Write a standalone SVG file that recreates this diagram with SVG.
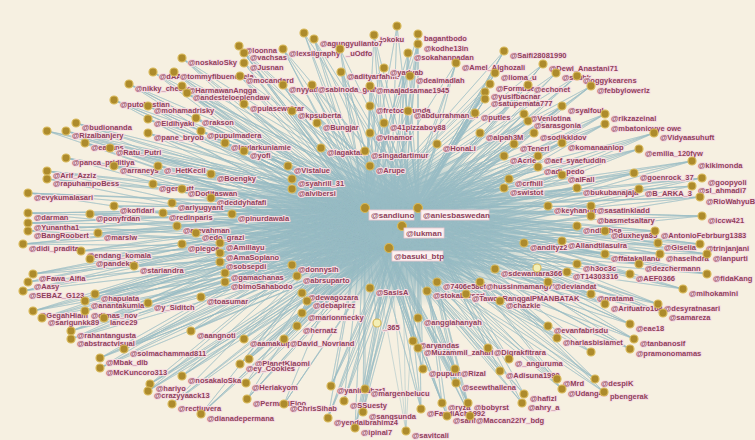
<svg xmlns="http://www.w3.org/2000/svg" width="755" height="440" viewBox="0 0 755 440">
<style>
.bg{fill:#f6f0e1}
.e{fill:none;stroke:#98bbc3;stroke-width:.8;stroke-opacity:.6;stroke-linejoin:round}
#nodes circle{fill:#ad8b2c;stroke:#d8b95a;stroke-width:1.2}
#nodes text{font-family:"Liberation Sans",Arial,sans-serif;font-size:7.5px;font-weight:bold;fill:#8f3f5a;stroke:#f6dde2;stroke-width:2.2px;paint-order:stroke;stroke-linejoin:round}
#nodes .lt circle{fill:#f3efb6}
#nodes .hub rect{fill:#fbf1f1;stroke:#efc8cf;stroke-width:.8}
#nodes .hub text{font-size:8px;stroke:none}
</style>
<defs>
<radialGradient id="core" cx="0.5" cy="0.5" r="0.5">
<stop offset="0" stop-color="#9cbdc5" stop-opacity="1"/>
<stop offset="0.6" stop-color="#9fbfc6" stop-opacity="0.85"/>
<stop offset="1" stop-color="#a8c6cc" stop-opacity="0"/>
</radialGradient>
</defs>
<rect class="bg" x="0" y="0" width="755" height="440"/>
<g id="connectors">
<ellipse cx="392" cy="228" rx="165" ry="80" fill="url(#core)"/>
<path class="e" d="M365 208L374 35 365 208 418 34 365 208 397 26 365 208 314 39 365 208 304 33 365 208 418 44 365 208 239 46 365 208 244 53 365 208 283 49 365 208 340 49 365 208 408 53 365 208 504 51 365 208 182 58 365 208 244 63 365 208 456 63 365 208 543 64 365 208 153 72 365 208 174 72 365 208 240 76 365 208 341 72 365 208 379 73 365 208 403 73 365 208 495 73 365 208 556 73 365 208 577 76 365 208 129 84 365 208 182 86 365 208 283 85 365 208 312 85 365 208 370 86 365 208 490 84 365 208 528 85 365 208 591 86 365 208 187 93 365 208 485 92 365 208 114 100 365 208 244 104 365 208 370 106 365 208 485 99 365 208 562 106 365 208 148 106 365 208 292 111 365 208 408 111 365 208 475 113 365 208 524 114 365 208 605 114 365 208 76 123 365 208 148 119 365 208 196 118 365 208 528 121 365 208 605 124 365 208 317 123 365 208 384 123 365 208 47 131 365 208 66 131 365 208 148 133 365 208 201 131 365 208 370 133 365 208 480 133 365 208 534 133 365 208 654 133 365 208 85 143 365 208 110 148 365 208 225 143 365 208 437 144 365 208 514 144 365 208 562 143 365 208 639 149 365 208 66 158 365 208 244 151 365 208 321 148 365 208 365 151 365 208 504 156 365 208 538 156 365 208 692 161 365 208 114 166 365 208 158 166 365 208 47 171 365 208 288 166 365 208 370 166 365 208 538 167 365 208 211 174 365 208 292 179 365 208 562 175 365 208 634 173 365 208 702 178 365 208 47 179 365 208 153 184 365 208 182 189 365 208 292 189 365 208 509 179 365 208 504 188 365 208 577 188 365 208 639 189 365 208 692 186 365 208 700 197 365 208 28 193 365 208 211 198 365 208 172 203 365 208 114 206 365 208 28 213 365 208 90 214 365 208 163 213 365 208 232 214 365 208 548 206 365 208 591 206 365 208 591 216 365 208 702 216 365 208 28 223 365 208 177 226 365 208 577 226 365 208 28 231 365 208 98 233 365 208 196 233 365 208 605 231 365 208 655 231 365 208 23 244 365 208 182 244 365 208 220 243 365 208 524 243 365 208 562 241 365 208 658 243 365 208 700 244 365 208 81 251 365 208 220 253 365 208 90 259 365 208 220 262 365 208 605 254 365 208 660 254 365 208 707 254 365 208 134 266 365 208 292 265 365 208 495 269 365 208 537 268 365 208 577 264 365 208 567 272 365 208 639 264 365 208 630 274 365 208 707 274 365 208 33 274 365 208 225 273 365 208 297 276 365 208 28 282 365 208 225 282 365 208 437 282 365 208 480 282 365 208 548 282 365 208 23 291 365 208 95 294 365 208 201 297 365 208 302 293 365 208 370 288 365 208 427 291 365 208 466 294 365 208 591 294 365 208 683 289 365 208 85 301 365 208 148 303 365 208 307 301 365 208 500 301 365 208 605 304 365 208 658 304 365 208 33 311 365 208 85 311 365 208 302 313 365 208 663 313 365 208 42 318 365 208 104 318 365 208 418 318 365 208 71 331 365 208 191 331 365 208 297 326 365 208 377 323 365 208 548 326 365 208 630 324 365 208 71 339 365 208 244 339 365 208 284 339 365 208 413 341 365 208 634 339 365 208 557 338 365 208 124 349 365 208 100 358 365 208 249 359 365 208 418 348 365 208 488 348 365 208 630 349 365 208 591 352 365 208 509 359 365 208 100 368 365 208 240 364 365 208 423 369 365 208 455 369 365 208 500 371 365 208 182 376 365 208 557 379 365 208 595 379 365 208 150 384 365 208 246 383 365 208 331 386 365 208 365 389 365 208 456 383 365 208 562 389 365 208 604 392 365 208 148 391 365 208 524 394 365 208 247 399 365 208 172 404 365 208 284 404 365 208 344 401 365 208 442 403 365 208 468 403 365 208 522 403 365 208 363 412 365 208 421 409 365 208 201 414 365 208 328 418 365 208 447 416 365 208 470 416 365 208 355 428 365 208 406 431"/>
<path class="e" d="M418 208L374 35 418 208 418 34 418 208 397 26 418 208 314 39 418 208 304 33 418 208 418 44 418 208 239 46 418 208 244 53 418 208 283 49 418 208 340 49 418 208 408 53 418 208 504 51 418 208 182 58 418 208 244 63 418 208 456 63 418 208 543 64 418 208 153 72 418 208 174 72 418 208 240 76 418 208 341 72 418 208 379 73 418 208 403 73 418 208 495 73 418 208 556 73 418 208 577 76 418 208 129 84 418 208 182 86 418 208 283 85 418 208 312 85 418 208 370 86 418 208 490 84 418 208 528 85 418 208 591 86 418 208 187 93 418 208 485 92 418 208 114 100 418 208 244 104 418 208 370 106 418 208 485 99 418 208 562 106 418 208 148 106 418 208 292 111 418 208 408 111 418 208 475 113 418 208 524 114 418 208 605 114 418 208 76 123 418 208 148 119 418 208 196 118 418 208 528 121 418 208 605 124 418 208 317 123 418 208 384 123 418 208 47 131 418 208 66 131 418 208 148 133 418 208 201 131 418 208 370 133 418 208 480 133 418 208 534 133 418 208 654 133 418 208 85 143 418 208 110 148 418 208 225 143 418 208 437 144 418 208 514 144 418 208 562 143 418 208 639 149 418 208 66 158 418 208 244 151 418 208 321 148 418 208 365 151 418 208 504 156 418 208 538 156 418 208 692 161 418 208 114 166 418 208 158 166 418 208 47 171 418 208 288 166 418 208 370 166 418 208 538 167 418 208 211 174 418 208 292 179 418 208 562 175 418 208 634 173 418 208 702 178 418 208 47 179 418 208 153 184 418 208 182 189 418 208 292 189 418 208 509 179 418 208 504 188 418 208 577 188 418 208 639 189 418 208 692 186 418 208 700 197 418 208 28 193 418 208 211 198 418 208 172 203 418 208 114 206 418 208 28 213 418 208 90 214 418 208 163 213 418 208 232 214 418 208 548 206 418 208 591 206 418 208 591 216 418 208 702 216 418 208 28 223 418 208 177 226 418 208 577 226 418 208 28 231 418 208 98 233 418 208 196 233 418 208 605 231 418 208 655 231 418 208 23 244 418 208 182 244 418 208 220 243 418 208 524 243 418 208 562 241 418 208 658 243 418 208 700 244 418 208 81 251 418 208 220 253 418 208 90 259 418 208 220 262 418 208 605 254 418 208 660 254 418 208 707 254 418 208 134 266 418 208 292 265 418 208 495 269 418 208 537 268 418 208 577 264 418 208 567 272 418 208 639 264 418 208 630 274 418 208 707 274 418 208 33 274 418 208 225 273 418 208 297 276 418 208 28 282 418 208 225 282 418 208 437 282 418 208 480 282 418 208 548 282 418 208 23 291 418 208 95 294 418 208 201 297 418 208 302 293 418 208 370 288 418 208 427 291 418 208 466 294 418 208 591 294 418 208 683 289 418 208 85 301 418 208 148 303 418 208 307 301 418 208 500 301 418 208 605 304 418 208 658 304 418 208 33 311 418 208 85 311 418 208 302 313 418 208 663 313 418 208 42 318 418 208 104 318 418 208 418 318 418 208 71 331 418 208 191 331 418 208 297 326 418 208 377 323 418 208 548 326 418 208 630 324 418 208 71 339 418 208 244 339 418 208 284 339 418 208 413 341 418 208 634 339 418 208 557 338 418 208 124 349 418 208 100 358 418 208 249 359 418 208 418 348 418 208 488 348 418 208 630 349 418 208 591 352 418 208 509 359 418 208 100 368 418 208 240 364 418 208 423 369 418 208 455 369 418 208 500 371 418 208 182 376 418 208 557 379 418 208 595 379 418 208 150 384 418 208 246 383 418 208 331 386 418 208 365 389 418 208 456 383 418 208 562 389 418 208 604 392 418 208 148 391 418 208 524 394 418 208 247 399 418 208 172 404 418 208 284 404 418 208 344 401 418 208 442 403 418 208 468 403 418 208 522 403 418 208 363 412 418 208 421 409 418 208 201 414 418 208 328 418 418 208 447 416 418 208 470 416 418 208 355 428 418 208 406 431"/>
<path class="e" d="M402 226L374 35 402 226 418 34 402 226 314 39 402 226 418 44 402 226 239 46 402 226 283 49 402 226 408 53 402 226 504 51 402 226 182 58 402 226 456 63 402 226 543 64 402 226 174 72 402 226 240 76 402 226 341 72 402 226 403 73 402 226 495 73 402 226 577 76 402 226 129 84 402 226 182 86 402 226 312 85 402 226 370 86 402 226 490 84 402 226 591 86 402 226 187 93 402 226 114 100 402 226 244 104 402 226 485 99 402 226 562 106 402 226 148 106 402 226 292 111 402 226 408 111 402 226 524 114 402 226 605 114 402 226 76 123 402 226 196 118 402 226 605 124 402 226 317 123 402 226 384 123 402 226 66 131 402 226 148 133 402 226 201 131 402 226 480 133 402 226 654 133 402 226 85 143 402 226 110 148 402 226 225 143 402 226 437 144 402 226 562 143 402 226 639 149 402 226 66 158 402 226 321 148 402 226 504 156 402 226 692 161 402 226 114 166 402 226 47 171 402 226 288 166 402 226 538 167 402 226 211 174 402 226 634 173 402 226 702 178 402 226 153 184 402 226 292 189 402 226 577 188 402 226 639 189 402 226 700 197 402 226 28 193 402 226 172 203 402 226 28 213 402 226 90 214 402 226 232 214 402 226 591 206 402 226 702 216 402 226 28 223 402 226 177 226 402 226 28 231 402 226 98 233 402 226 605 231 402 226 655 231 402 226 23 244 402 226 220 243 402 226 562 241 402 226 700 244 402 226 81 251 402 226 90 259 402 226 605 254 402 226 707 254 402 226 134 266 402 226 292 265 402 226 495 269 402 226 639 264 402 226 707 274 402 226 33 274 402 226 225 282 402 226 480 282 402 226 23 291 402 226 95 294 402 226 201 297 402 226 302 293 402 226 466 294 402 226 591 294 402 226 683 289 402 226 85 301 402 226 148 303 402 226 605 304 402 226 658 304 402 226 33 311 402 226 302 313 402 226 663 313 402 226 42 318 402 226 418 318 402 226 71 331 402 226 191 331 402 226 548 326 402 226 630 324 402 226 71 339 402 226 284 339 402 226 634 339 402 226 124 349 402 226 100 358 402 226 249 359 402 226 488 348 402 226 630 349 402 226 509 359 402 226 100 368 402 226 240 364 402 226 455 369 402 226 182 376 402 226 595 379 402 226 150 384 402 226 331 386 402 226 456 383 402 226 562 389 402 226 148 391 402 226 247 399 402 226 172 404 402 226 344 401 402 226 468 403 402 226 363 412 402 226 421 409 402 226 201 414 402 226 328 418 402 226 470 416 402 226 355 428 402 226 406 431"/>
<path class="e" d="M389 248L374 35 389 248 418 34 389 248 397 26 389 248 314 39 389 248 304 33 389 248 418 44 389 248 239 46 389 248 244 53 389 248 283 49 389 248 340 49 389 248 408 53 389 248 504 51 389 248 182 58 389 248 244 63 389 248 456 63 389 248 543 64 389 248 153 72 389 248 174 72 389 248 240 76 389 248 341 72 389 248 379 73 389 248 403 73 389 248 495 73 389 248 556 73 389 248 577 76 389 248 129 84 389 248 182 86 389 248 283 85 389 248 312 85 389 248 370 86 389 248 490 84 389 248 528 85 389 248 591 86 389 248 187 93 389 248 485 92 389 248 114 100 389 248 244 104 389 248 370 106 389 248 485 99 389 248 562 106 389 248 148 106 389 248 292 111 389 248 408 111 389 248 475 113 389 248 524 114 389 248 605 114 389 248 76 123 389 248 148 119 389 248 196 118 389 248 528 121 389 248 605 124 389 248 317 123 389 248 384 123 389 248 47 131 389 248 66 131 389 248 148 133 389 248 201 131 389 248 370 133 389 248 480 133 389 248 534 133 389 248 654 133 389 248 85 143 389 248 110 148 389 248 225 143 389 248 437 144 389 248 514 144 389 248 562 143 389 248 639 149 389 248 66 158 389 248 244 151 389 248 321 148 389 248 365 151 389 248 504 156 389 248 538 156 389 248 692 161 389 248 114 166 389 248 158 166 389 248 47 171 389 248 288 166 389 248 370 166 389 248 538 167 389 248 211 174 389 248 292 179 389 248 562 175 389 248 634 173 389 248 702 178 389 248 47 179 389 248 153 184 389 248 182 189 389 248 292 189 389 248 509 179 389 248 504 188 389 248 577 188 389 248 639 189 389 248 692 186 389 248 700 197 389 248 28 193 389 248 211 198 389 248 172 203 389 248 114 206 389 248 28 213 389 248 90 214 389 248 163 213 389 248 232 214 389 248 548 206 389 248 591 206 389 248 591 216 389 248 702 216 389 248 28 223 389 248 177 226 389 248 577 226 389 248 28 231 389 248 98 233 389 248 196 233 389 248 605 231 389 248 655 231 389 248 23 244 389 248 182 244 389 248 220 243 389 248 524 243 389 248 562 241 389 248 658 243 389 248 700 244 389 248 81 251 389 248 220 253 389 248 90 259 389 248 220 262 389 248 605 254 389 248 660 254 389 248 707 254 389 248 134 266 389 248 292 265 389 248 495 269 389 248 537 268 389 248 577 264 389 248 567 272 389 248 639 264 389 248 630 274 389 248 707 274 389 248 33 274 389 248 225 273 389 248 297 276 389 248 28 282 389 248 225 282 389 248 437 282 389 248 480 282 389 248 548 282 389 248 23 291 389 248 95 294 389 248 201 297 389 248 302 293 389 248 370 288 389 248 427 291 389 248 466 294 389 248 591 294 389 248 683 289 389 248 85 301 389 248 148 303 389 248 307 301 389 248 500 301 389 248 605 304 389 248 658 304 389 248 33 311 389 248 85 311 389 248 302 313 389 248 663 313 389 248 42 318 389 248 104 318 389 248 418 318 389 248 71 331 389 248 191 331 389 248 297 326 389 248 377 323 389 248 548 326 389 248 630 324 389 248 71 339 389 248 244 339 389 248 284 339 389 248 413 341 389 248 634 339 389 248 557 338 389 248 124 349 389 248 100 358 389 248 249 359 389 248 418 348 389 248 488 348 389 248 630 349 389 248 591 352 389 248 509 359 389 248 100 368 389 248 240 364 389 248 423 369 389 248 455 369 389 248 500 371 389 248 182 376 389 248 557 379 389 248 595 379 389 248 150 384 389 248 246 383 389 248 331 386 389 248 365 389 389 248 456 383 389 248 562 389 389 248 604 392 389 248 148 391 389 248 524 394 389 248 247 399 389 248 172 404 389 248 284 404 389 248 344 401 389 248 442 403 389 248 468 403 389 248 522 403 389 248 363 412 389 248 421 409 389 248 201 414 389 248 328 418 389 248 447 416 389 248 470 416 389 248 355 428 389 248 406 431"/>
</g>
<g id="nodes">
<g id="n1"><circle cx="374" cy="35" r="4"/><text x="380" y="42">jokoku</text></g>
<g id="n2"><circle cx="418" cy="34" r="4"/><text x="424" y="41">bagantbodo</text></g>
<g id="n3"><circle cx="397" cy="26" r="4"/></g>
<g id="n4"><circle cx="314" cy="39" r="4"/><text x="320" y="46">@agungyulianto7</text></g>
<g id="n5"><circle cx="304" cy="33" r="4"/></g>
<g id="n6"><circle cx="418" cy="44" r="4"/><text x="424" y="51">@kodhe13in</text></g>
<g id="n7"><circle cx="239" cy="46" r="4"/><text x="245" y="53">@loonna</text></g>
<g id="n8"><circle cx="244" cy="53" r="4"/><text x="250" y="60">@vachsas</text></g>
<g id="n9"><circle cx="283" cy="49" r="4"/><text x="289" y="56">@lexsilgraphy</text></g>
<g id="n10"><circle cx="340" cy="49" r="4"/><text x="346" y="56">_uOdfo</text></g>
<g id="n11"><circle cx="408" cy="53" r="4"/><text x="414" y="60">@sokahanpadan</text></g>
<g id="n12"><circle cx="504" cy="51" r="4"/><text x="510" y="58">@Saifi28081990</text></g>
<g id="n13"><circle cx="182" cy="58" r="4"/><text x="188" y="65">@noskaloSky</text></g>
<g id="n14"><circle cx="244" cy="63" r="4"/><text x="250" y="70">@Jusnan</text></g>
<g id="n15"><circle cx="456" cy="63" r="4"/><text x="462" y="70">@Amel_Alghozali</text></g>
<g id="n16"><circle cx="543" cy="64" r="4"/><text x="549" y="71">@Dewi_Anastani71</text></g>
<g id="n17"><circle cx="153" cy="72" r="4"/><text x="159" y="79">@dAA</text></g>
<g id="n18"><circle cx="174" cy="72" r="4"/><text x="180" y="79">@tommyfibuenosela</text></g>
<g id="n19"><circle cx="240" cy="76" r="4"/><text x="246" y="83">@mocandard</text></g>
<g id="n20"><circle cx="341" cy="72" r="4"/><text x="347" y="79">@adityarfahmi</text></g>
<g id="n21"><circle cx="384" cy="68" r="4"/><text x="390" y="75">@yadyab</text></g>
<g id="n22"><circle cx="410" cy="76" r="4"/><text x="416" y="83">@deaimadlah</text></g>
<g id="n23"><circle cx="495" cy="73" r="4"/><text x="501" y="80">@lioma_u</text></g>
<g id="n24"><circle cx="556" cy="73" r="4"/><text x="562" y="80">@siluhk</text></g>
<g id="n25"><circle cx="577" cy="76" r="4"/><text x="583" y="83">@oggykearens</text></g>
<g id="n26"><circle cx="129" cy="84" r="4"/><text x="135" y="91">@nikky_cheese</text></g>
<g id="n27"><circle cx="182" cy="86" r="4"/><text x="188" y="93">@HarmawanAngga</text></g>
<g id="n28"><circle cx="283" cy="85" r="4"/><text x="289" y="92">@nyyatla</text></g>
<g id="n29"><circle cx="312" cy="85" r="4"/><text x="318" y="92">@sabinoda_graha</text></g>
<g id="n30"><circle cx="370" cy="86" r="4"/><text x="376" y="93">@maajadsamae1945</text></g>
<g id="n31"><circle cx="490" cy="84" r="4"/><text x="496" y="91">@Formusen</text></g>
<g id="n32"><circle cx="528" cy="85" r="4"/><text x="534" y="92">@echonet</text></g>
<g id="n33"><circle cx="591" cy="86" r="4"/><text x="597" y="93">@febbylowerlz</text></g>
<g id="n34"><circle cx="187" cy="93" r="4"/><text x="193" y="100">@andesteloeplendaw</text></g>
<g id="n35"><circle cx="485" cy="92" r="4"/><text x="491" y="99">@yusifbacnar</text></g>
<g id="n36"><circle cx="114" cy="100" r="4"/><text x="120" y="107">@putobastian</text></g>
<g id="n37"><circle cx="244" cy="104" r="4"/><text x="250" y="111">@pulasewaizar</text></g>
<g id="n38"><circle cx="370" cy="106" r="4"/><text x="376" y="113">@fretoceyunda</text></g>
<g id="n39"><circle cx="485" cy="99" r="4"/><text x="491" y="106">@satupemata777</text></g>
<g id="n40"><circle cx="562" cy="106" r="4"/><text x="568" y="113">@syalfoul</text></g>
<g id="n41"><circle cx="148" cy="106" r="4"/><text x="154" y="113">@mohamadrisky</text></g>
<g id="n42"><circle cx="292" cy="111" r="4"/><text x="298" y="118">@kpsuberta</text></g>
<g id="n43"><circle cx="408" cy="111" r="4"/><text x="414" y="118">@abdurrahman_fi</text></g>
<g id="n44"><circle cx="475" cy="113" r="4"/><text x="481" y="120">@putles</text></g>
<g id="n45"><circle cx="524" cy="114" r="4"/><text x="530" y="121">@Venlotina</text></g>
<g id="n46"><circle cx="605" cy="114" r="4"/><text x="611" y="121">@rikzazeinal</text></g>
<g id="n47"><circle cx="76" cy="123" r="4"/><text x="82" y="130">@budionanda</text></g>
<g id="n48"><circle cx="148" cy="119" r="4"/><text x="154" y="126">@Eldihyaki</text></g>
<g id="n49"><circle cx="196" cy="118" r="4"/><text x="202" y="125">@rakson</text></g>
<g id="n50"><circle cx="528" cy="121" r="4"/><text x="534" y="128">@sarasgonia</text></g>
<g id="n51"><circle cx="605" cy="124" r="4"/><text x="611" y="131">@mbatoniovye owe</text></g>
<g id="n52"><circle cx="317" cy="123" r="4"/><text x="323" y="130">@Bungjar</text></g>
<g id="n53"><circle cx="384" cy="123" r="4"/><text x="390" y="130">@41pizzaboy88</text></g>
<g id="n54"><circle cx="47" cy="131" r="4"/></g>
<g id="n55"><circle cx="66" cy="131" r="4"/><text x="72" y="138">@Rizalbanjery</text></g>
<g id="n56"><circle cx="148" cy="133" r="4"/><text x="154" y="140">@pane_bryob</text></g>
<g id="n57"><circle cx="201" cy="131" r="4"/><text x="207" y="138">@pupulmadera</text></g>
<g id="n58"><circle cx="370" cy="133" r="4"/><text x="376" y="140">@vinamor</text></g>
<g id="n59"><circle cx="480" cy="133" r="4"/><text x="486" y="140">@alpah3M</text></g>
<g id="n60"><circle cx="534" cy="133" r="4"/><text x="540" y="140">@sodikkldov</text></g>
<g id="n61"><circle cx="654" cy="133" r="4"/><text x="660" y="140">@Vidyaasuhuft</text></g>
<g id="n62"><circle cx="85" cy="143" r="4"/><text x="91" y="150">@eaeans</text></g>
<g id="n63"><circle cx="110" cy="148" r="4"/><text x="116" y="155">@Ratu_Putri</text></g>
<g id="n64"><circle cx="225" cy="143" r="4"/><text x="231" y="150">@lovlarkuniamie</text></g>
<g id="n65"><circle cx="437" cy="144" r="4"/><text x="443" y="151">@HonaLi</text></g>
<g id="n66"><circle cx="514" cy="144" r="4"/><text x="520" y="151">@Tenerl</text></g>
<g id="n67"><circle cx="562" cy="143" r="4"/><text x="568" y="150">@komanaanlop</text></g>
<g id="n68"><circle cx="639" cy="149" r="4"/><text x="645" y="156">@emilia_120fyw</text></g>
<g id="n69"><circle cx="66" cy="158" r="4"/><text x="72" y="165">@panca_priditiya</text></g>
<g id="n70"><circle cx="244" cy="151" r="4"/><text x="250" y="158">@yofi</text></g>
<g id="n71"><circle cx="321" cy="148" r="4"/><text x="327" y="155">@lagaktakt</text></g>
<g id="n72"><circle cx="365" cy="151" r="4"/><text x="371" y="158">@singadartimur</text></g>
<g id="n73"><circle cx="504" cy="156" r="4"/><text x="510" y="163">@Acrie</text></g>
<g id="n74"><circle cx="538" cy="156" r="4"/><text x="544" y="163">@aef_syaefuddin</text></g>
<g id="n75"><circle cx="692" cy="161" r="4"/><text x="698" y="168">@kikimonda</text></g>
<g id="n76"><circle cx="114" cy="166" r="4"/><text x="120" y="173">@arraneys</text></g>
<g id="n77"><circle cx="158" cy="166" r="4"/><text x="164" y="173">@_HetKecil</text></g>
<g id="n78"><circle cx="47" cy="171" r="4"/><text x="53" y="178">@Arif_Azziz</text></g>
<g id="n79"><circle cx="288" cy="166" r="4"/><text x="294" y="173">@Vistalue</text></g>
<g id="n80"><circle cx="370" cy="166" r="4"/><text x="376" y="173">@Arupe</text></g>
<g id="n81"><circle cx="538" cy="167" r="4"/><text x="544" y="174">@adi_pedo</text></g>
<g id="n82"><circle cx="211" cy="174" r="4"/><text x="217" y="181">@Boengky</text></g>
<g id="n83"><circle cx="292" cy="179" r="4"/><text x="298" y="186">@syahrill_31</text></g>
<g id="n84"><circle cx="562" cy="175" r="4"/><text x="568" y="182">@alFall</text></g>
<g id="n85"><circle cx="634" cy="173" r="4"/><text x="640" y="180">@goenrock_37</text></g>
<g id="n86"><circle cx="702" cy="178" r="4"/><text x="708" y="185">@goopyoli</text></g>
<g id="n87"><circle cx="47" cy="179" r="4"/><text x="53" y="186">@rapuhampoBess</text></g>
<g id="n88"><circle cx="153" cy="184" r="4"/><text x="159" y="191">@gendutt</text></g>
<g id="n89"><circle cx="182" cy="189" r="4"/><text x="188" y="196">@Doditaswan</text></g>
<g id="n90"><circle cx="292" cy="189" r="4"/><text x="298" y="196">@alvibersi</text></g>
<g id="n91"><circle cx="509" cy="179" r="4"/><text x="515" y="186">@crfhill</text></g>
<g id="n92"><circle cx="504" cy="188" r="4"/><text x="510" y="195">@swistot</text></g>
<g id="n93"><circle cx="577" cy="188" r="4"/><text x="583" y="195">@bukubanajaja</text></g>
<g id="n94"><circle cx="639" cy="189" r="4"/><text x="645" y="196">@B_ARKA_3</text></g>
<g id="n95"><circle cx="692" cy="186" r="4"/><text x="698" y="193">@sl_ahmadi7</text></g>
<g id="n96"><circle cx="700" cy="197" r="4"/><text x="706" y="204">@RioWahyuB</text></g>
<g id="n97"><circle cx="28" cy="193" r="4"/><text x="34" y="200">@evykumalasari</text></g>
<g id="n98"><circle cx="211" cy="198" r="4"/><text x="217" y="205">@deddyhafafi</text></g>
<g id="n99"><circle cx="172" cy="203" r="4"/><text x="178" y="210">@ariyugyant</text></g>
<g id="n100"><circle cx="114" cy="206" r="4"/><text x="120" y="213">@kofidari</text></g>
<g id="n101"><circle cx="28" cy="213" r="4"/><text x="34" y="220">@darman</text></g>
<g id="n102"><circle cx="90" cy="214" r="4"/><text x="96" y="221">@ponyfrdan</text></g>
<g id="n103"><circle cx="163" cy="213" r="4"/><text x="169" y="220">@redinparis</text></g>
<g id="n104"><circle cx="232" cy="214" r="4"/><text x="238" y="221">@pinurdawala</text></g>
<g id="n105"><circle cx="548" cy="206" r="4"/><text x="554" y="213">@keyhanom</text></g>
<g id="n106"><circle cx="591" cy="206" r="4"/><text x="597" y="213">@sasatinkladd</text></g>
<g id="n107"><circle cx="591" cy="216" r="4"/><text x="597" y="223">@basmetsaltary</text></g>
<g id="n108"><circle cx="702" cy="216" r="4"/><text x="708" y="223">@iccw421</text></g>
<g id="n109"><circle cx="28" cy="223" r="4"/><text x="34" y="230">@Yunantha1</text></g>
<g id="n110"><circle cx="177" cy="226" r="4"/><text x="183" y="233">@arevahman</text></g>
<g id="n111"><circle cx="577" cy="226" r="4"/><text x="583" y="233">@ndibfhsa</text></g>
<g id="n112"><circle cx="28" cy="231" r="4"/><text x="34" y="238">@BangRoobert</text></g>
<g id="n113"><circle cx="98" cy="233" r="4"/><text x="104" y="240">@marslw</text></g>
<g id="n114"><circle cx="196" cy="233" r="4"/><text x="202" y="240">@edo_grazi</text></g>
<g id="n115"><circle cx="605" cy="231" r="4"/><text x="611" y="238">@duxheya85</text></g>
<g id="n116"><circle cx="655" cy="231" r="4"/><text x="661" y="238">@AntonioFebrburg1383</text></g>
<g id="n117"><circle cx="23" cy="244" r="4"/><text x="29" y="251">@didi_pradita</text></g>
<g id="n118"><circle cx="182" cy="244" r="4"/><text x="188" y="251">@piegoe</text></g>
<g id="n119"><circle cx="220" cy="243" r="4"/><text x="226" y="250">@Amillayu</text></g>
<g id="n120"><circle cx="524" cy="243" r="4"/><text x="530" y="250">@andityz2</text></g>
<g id="n121"><circle cx="562" cy="241" r="4"/><text x="568" y="248">@Allandtilasulra</text></g>
<g id="n122"><circle cx="658" cy="243" r="4"/><text x="664" y="250">@Giselia</text></g>
<g id="n123"><circle cx="700" cy="244" r="4"/><text x="706" y="251">@trinjanjani</text></g>
<g id="n124"><circle cx="81" cy="251" r="4"/><text x="87" y="258">@endang_komala</text></g>
<g id="n125"><circle cx="220" cy="253" r="4"/><text x="226" y="260">@AmaSoplano</text></g>
<g id="n126"><circle cx="90" cy="259" r="4"/><text x="96" y="266">@pandekak</text></g>
<g id="n127"><circle cx="220" cy="262" r="4"/><text x="226" y="269">@sobsepdi</text></g>
<g id="n128"><circle cx="605" cy="254" r="4"/><text x="611" y="261">@ffatakalland</text></g>
<g id="n129"><circle cx="660" cy="254" r="4"/><text x="666" y="261">@haselhdra</text></g>
<g id="n130"><circle cx="707" cy="254" r="4"/><text x="713" y="261">@lanpurti</text></g>
<g id="n131"><circle cx="134" cy="266" r="4"/><text x="140" y="273">@stariandra</text></g>
<g id="n132"><circle cx="292" cy="265" r="4"/><text x="298" y="272">@donnysih</text></g>
<g id="n133"><circle cx="495" cy="269" r="4"/><text x="501" y="276">@sdewantara366</text></g>
<g id="n134" class="lt"><circle cx="537" cy="268" r="4"/></g>
<g id="n135"><circle cx="577" cy="264" r="4"/><text x="583" y="271">@h3oc3c</text></g>
<g id="n136"><circle cx="567" cy="272" r="4"/><text x="573" y="279">@T14303316</text></g>
<g id="n137"><circle cx="639" cy="264" r="4"/><text x="645" y="271">@dezchermann</text></g>
<g id="n138"><circle cx="630" cy="274" r="4"/><text x="636" y="281">@AEF0366</text></g>
<g id="n139"><circle cx="707" cy="274" r="4"/><text x="713" y="281">@fidaKang</text></g>
<g id="n140"><circle cx="33" cy="274" r="4"/><text x="39" y="281">@Fawa_Alfia</text></g>
<g id="n141"><circle cx="225" cy="273" r="4"/><text x="231" y="280">@gamachanas</text></g>
<g id="n142"><circle cx="297" cy="276" r="4"/><text x="303" y="283">@abrsuparto</text></g>
<g id="n143"><circle cx="28" cy="282" r="4"/><text x="34" y="289">@Aasy</text></g>
<g id="n144"><circle cx="225" cy="282" r="4"/><text x="231" y="289">@bimoSahabodo</text></g>
<g id="n145"><circle cx="437" cy="282" r="4"/><text x="443" y="289">@7406e58et</text></g>
<g id="n146"><circle cx="480" cy="282" r="4"/><text x="486" y="289">@hussinmamang79</text></g>
<g id="n147"><circle cx="548" cy="282" r="4"/><text x="554" y="289">@deviandat</text></g>
<g id="n148"><circle cx="23" cy="291" r="4"/><text x="29" y="298">@SEBAZ_G123</text></g>
<g id="n149"><circle cx="95" cy="294" r="4"/><text x="101" y="301">@hapulata</text></g>
<g id="n150"><circle cx="201" cy="297" r="4"/><text x="207" y="304">@toasumar</text></g>
<g id="n151"><circle cx="302" cy="293" r="4"/><text x="308" y="300">@dewagozara</text></g>
<g id="n152"><circle cx="370" cy="288" r="4"/><text x="376" y="295">@SasisA</text></g>
<g id="n153"><circle cx="427" cy="291" r="4"/><text x="433" y="298">@stokabarsari</text></g>
<g id="n154"><circle cx="466" cy="294" r="4"/><text x="472" y="301">@TawonRanggaIPMANBATAK</text></g>
<g id="n155"><circle cx="591" cy="294" r="4"/><text x="597" y="301">@pratama</text></g>
<g id="n156"><circle cx="683" cy="289" r="4"/><text x="689" y="296">@mihokamini</text></g>
<g id="n157"><circle cx="85" cy="301" r="4"/><text x="91" y="308">@anantakumia</text></g>
<g id="n158"><circle cx="148" cy="303" r="4"/><text x="154" y="310">@y_Siditch</text></g>
<g id="n159"><circle cx="307" cy="301" r="4"/><text x="313" y="308">@debapirez</text></g>
<g id="n160"><circle cx="500" cy="301" r="4"/><text x="506" y="308">@chazkie</text></g>
<g id="n161"><circle cx="605" cy="304" r="4"/><text x="611" y="311">@Arifuatro168</text></g>
<g id="n162"><circle cx="658" cy="304" r="4"/><text x="664" y="311">@desyratnasari</text></g>
<g id="n163"><circle cx="33" cy="311" r="4"/><text x="39" y="318">@GegahHiam</text></g>
<g id="n164"><circle cx="85" cy="311" r="4"/><text x="91" y="318">@dimas_nov</text></g>
<g id="n165"><circle cx="302" cy="313" r="4"/><text x="308" y="320">@marionmecky</text></g>
<g id="n166"><circle cx="663" cy="313" r="4"/><text x="669" y="320">@samareza</text></g>
<g id="n167"><circle cx="42" cy="318" r="4"/><text x="48" y="325">@sarigunkk89</text></g>
<g id="n168"><circle cx="104" cy="318" r="4"/><text x="110" y="325">lance29</text></g>
<g id="n169"><circle cx="418" cy="318" r="4"/><text x="424" y="325">@anggiahanyah</text></g>
<g id="n170"><circle cx="71" cy="331" r="4"/><text x="77" y="338">@rahantangusta</text></g>
<g id="n171"><circle cx="191" cy="331" r="4"/><text x="197" y="338">@aangnoti</text></g>
<g id="n172"><circle cx="297" cy="326" r="4"/><text x="303" y="333">@hernatz</text></g>
<g id="n173" class="lt"><circle cx="377" cy="323" r="4"/><text x="383" y="330">_365</text></g>
<g id="n174"><circle cx="548" cy="326" r="4"/><text x="554" y="333">@evanfabrisdu</text></g>
<g id="n175"><circle cx="630" cy="324" r="4"/><text x="636" y="331">@eae18</text></g>
<g id="n176"><circle cx="71" cy="339" r="4"/><text x="77" y="346">@abstractvisual</text></g>
<g id="n177"><circle cx="244" cy="339" r="4"/><text x="250" y="346">@aamakuipa</text></g>
<g id="n178"><circle cx="284" cy="339" r="4"/><text x="290" y="346">@David_Novriand</text></g>
<g id="n179"><circle cx="413" cy="341" r="4"/><text x="419" y="348">@aryandas</text></g>
<g id="n180"><circle cx="634" cy="339" r="4"/><text x="640" y="346">@tanbanosif</text></g>
<g id="n181"><circle cx="557" cy="338" r="4"/><text x="563" y="345">@harlasbisiamet</text></g>
<g id="n182"><circle cx="124" cy="349" r="4"/><text x="130" y="356">@solmachammad811</text></g>
<g id="n183"><circle cx="100" cy="358" r="4"/><text x="106" y="365">@Mbak_dlb</text></g>
<g id="n184"><circle cx="249" cy="359" r="4"/><text x="255" y="366">@PlanetKiaomi</text></g>
<g id="n185"><circle cx="418" cy="348" r="4"/><text x="424" y="355">@Muzammil_zaharis</text></g>
<g id="n186"><circle cx="488" cy="348" r="4"/><text x="494" y="355">@Digrakfitrara</text></g>
<g id="n187"><circle cx="630" cy="349" r="4"/><text x="636" y="356">@pramonomamas</text></g>
<g id="n188"><circle cx="591" cy="352" r="4"/></g>
<g id="n189"><circle cx="509" cy="359" r="4"/><text x="515" y="366">@_anguruma</text></g>
<g id="n190"><circle cx="100" cy="368" r="4"/><text x="106" y="375">@McKuncoro313</text></g>
<g id="n191"><circle cx="240" cy="364" r="4"/><text x="246" y="371">@ey_Cookies</text></g>
<g id="n192"><circle cx="423" cy="369" r="4"/><text x="429" y="376">@pupum</text></g>
<g id="n193"><circle cx="455" cy="369" r="4"/><text x="461" y="376">@Rizal</text></g>
<g id="n194"><circle cx="500" cy="371" r="4"/><text x="506" y="378">@Adisuna1990</text></g>
<g id="n195"><circle cx="182" cy="376" r="4"/><text x="188" y="383">@nosakaloSka</text></g>
<g id="n196"><circle cx="557" cy="379" r="4"/><text x="563" y="386">@Mrd</text></g>
<g id="n197"><circle cx="595" cy="379" r="4"/><text x="601" y="386">@despiK</text></g>
<g id="n198"><circle cx="150" cy="384" r="4"/><text x="156" y="391">@hariyo</text></g>
<g id="n199"><circle cx="246" cy="383" r="4"/><text x="252" y="390">@Heriakyom</text></g>
<g id="n200"><circle cx="331" cy="386" r="4"/><text x="337" y="393">@yanimahar1</text></g>
<g id="n201"><circle cx="365" cy="389" r="4"/><text x="371" y="396">@margenbelucu</text></g>
<g id="n202"><circle cx="456" cy="383" r="4"/><text x="462" y="390">@seewthallena</text></g>
<g id="n203"><circle cx="562" cy="389" r="4"/><text x="568" y="396">@Udang42</text></g>
<g id="n204"><circle cx="604" cy="392" r="4"/><text x="610" y="399">pbengerak</text></g>
<g id="n205"><circle cx="148" cy="391" r="4"/><text x="154" y="398">@crazyyaack13</text></g>
<g id="n206"><circle cx="524" cy="394" r="4"/><text x="530" y="401">@hafizI</text></g>
<g id="n207"><circle cx="247" cy="399" r="4"/><text x="253" y="406">@PermadiEjoo</text></g>
<g id="n208"><circle cx="172" cy="404" r="4"/><text x="178" y="411">@rectiuvera</text></g>
<g id="n209"><circle cx="284" cy="404" r="4"/><text x="290" y="411">@ChrisSihab</text></g>
<g id="n210"><circle cx="344" cy="401" r="4"/><text x="350" y="408">@SSuesty</text></g>
<g id="n211"><circle cx="442" cy="403" r="4"/><text x="448" y="410">@ryza</text></g>
<g id="n212"><circle cx="468" cy="403" r="4"/><text x="474" y="410">@bobyrst</text></g>
<g id="n213"><circle cx="522" cy="403" r="4"/><text x="528" y="410">@ahry_a</text></g>
<g id="n214"><circle cx="363" cy="412" r="4"/><text x="369" y="419">@sangsunda</text></g>
<g id="n215"><circle cx="421" cy="409" r="4"/><text x="427" y="416">@FandiAch1992</text></g>
<g id="n216"><circle cx="201" cy="414" r="4"/><text x="207" y="421">@dianadepermana</text></g>
<g id="n217"><circle cx="328" cy="418" r="4"/><text x="334" y="425">@yendaibrahimz4</text></g>
<g id="n218"><circle cx="447" cy="416" r="4"/><text x="453" y="423">@sarih</text></g>
<g id="n219"><circle cx="470" cy="416" r="4"/><text x="476" y="423">@Maccan22lY_bdg</text></g>
<g id="n220"><circle cx="355" cy="428" r="4"/><text x="361" y="435">@ipinal7</text></g>
<g id="n221"><circle cx="406" cy="431" r="4"/><text x="412" y="438">@savitcali</text></g>
<g id="hub-sandiuno" class="hub"><circle cx="365" cy="208" r="4.5"/><rect x="369" y="210" width="45" height="10"/><text x="371" y="218">@sandiuno</text></g>
<g id="hub-aniesbaswedan" class="hub"><circle cx="418" cy="208" r="4.5"/><rect x="421" y="210" width="68" height="10"/><text x="423" y="218">@aniesbaswedan</text></g>
<g id="hub-lukman" class="hub"><circle cx="402" cy="226" r="4.5"/><rect x="404" y="228" width="40" height="10"/><text x="406" y="236">@lukman</text></g>
<g id="hub-basuki" class="hub"><circle cx="389" cy="248" r="4.5"/><rect x="392" y="251" width="51" height="10"/><text x="394" y="259">@basuki_btp</text></g>
</g>
</svg>
